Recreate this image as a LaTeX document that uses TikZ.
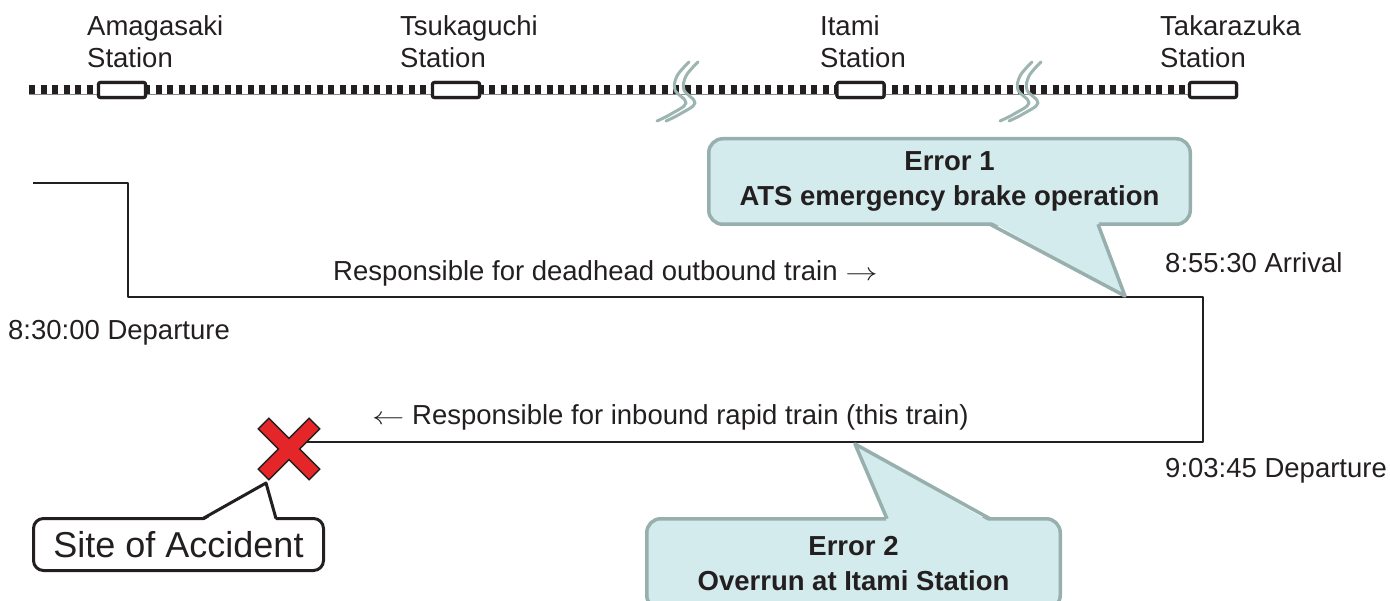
\documentclass[tikz,border=0pt]{standalone}
\usepackage{fontspec}
\setmainfont{Liberation Sans}
\definecolor{ink}{HTML}{231F20}
\definecolor{callfill}{HTML}{D3EBEC}
\definecolor{callline}{HTML}{97B0AD}
\definecolor{breakline}{HTML}{9DB5B0}
\definecolor{crossred}{HTML}{E52629}
\definecolor{railedge}{HTML}{8A8A8A}
\newcommand{\wideR}{\scalebox{1.3}[1]{$\rightarrow$}}
\newcommand{\wideL}{\scalebox{1.3}[1]{$\leftarrow$}}
\begin{document}
\begin{tikzpicture}[x=1pt,y=-1pt,line join=round,
  txt/.style={font=\fontsize{27.5}{32}\selectfont, text=ink, inner sep=0pt},
  boldtxt/.style={font=\fontsize{27.5}{35}\selectfont\bfseries, text=ink, inner sep=0pt, align=center},
  stn/.style={draw=ink, line width=3.2, fill=white, rounded corners=2,
    minimum width=47, minimum height=15, inner sep=0pt},
  brk/.style={draw=breakline, line width=3, line cap=round},
  run/.style={draw=ink, line width=1.6},
  errbox/.style={draw=callline, fill=callfill, line width=3.5, rounded corners=14},
  errtip/.style={draw=callline, line width=3.5},
]
\useasboundingbox (0,0) rectangle (1390,601);
\clip (0,0) rectangle (1390,601);

% ---- railway line with stations ----
\coordinate (trackW) at (29,90);
\node[stn] (stA) at (122,90) {};
\node[stn] (stB) at (456,90) {};
\node[stn] (stC) at (860.5,90) {};
\node[stn] (stD) at (1213,90) {};
\draw[railedge, line width=10.5] (trackW) -- (stD.center);
\draw[white, line width=9] (trackW) -- (stD.center);
\draw[ink, line width=9, dash pattern=on 6.2 off 5.3] (trackW) -- (stD.center);
\foreach \s in {stA,stB,stC,stD} \node[stn] at (\s) {};

\node[txt, align=left, anchor=north west] (lblA) at (87,15) {Amagasaki\\Station};
\node[txt, align=left, anchor=north west] (lblB) at (400,15) {Tsukaguchi\\Station};
\node[txt, align=left, anchor=north west] (lblC) at (820,15) {Itami\\Station};
\node[txt, align=left, anchor=north west] (lblD) at (1160,15) {Takarazuka\\Station};

% ---- breaks in the line ----
\foreach \dx in {0,343} {
  \foreach \s in {0,9} {
    \begin{scope}[shift={(\dx+\s,0)}]
      \draw[brk] plot[smooth, tension=0.6] coordinates
        {(689,62) (677,76) (675,90) (686,103) (671,114) (657,121)};
    \end{scope}
  }
}

% ---- run of the train ----
\coordinate (p0) at (33,183);
\coordinate (p1) at (128,183);
\coordinate (p2) at (128,297);
\coordinate (arr) at (1203,297);
\coordinate (dep) at (1203,442);
\coordinate (acc) at (289,442);
\coordinate (accX) at (289,449);
\draw[run] (p0) -- (p1) -- (p2) -- (arr) -- (dep) -- (acc);

\node[txt, anchor=base west] (tOut) at (333,281) {Responsible for deadhead outbound train \wideR};
\node[txt, anchor=base west] (tIn) at (372,425) {\wideL{} Responsible for inbound rapid train (this train)};
\node[txt, anchor=base west] (tArr) at (1165,273) {8:55:30 Arrival};
\node[txt, anchor=base west] (tDep0) at (8,340) {8:30:00 Departure};
\node[txt, anchor=base west] (tDep1) at (1165,477) {9:03:45 Departure};

% ---- accident mark ----
\filldraw[fill=crossred, draw=ink, line width=1.3, line join=miter, shift={(accX)}, rotate=45]
  (36,7.5) -- (7.5,7.5) -- (7.5,36) -- (-7.5,36) -- (-7.5,7.5) -- (-36,7.5) --
  (-36,-7.5) -- (-7.5,-7.5) -- (-7.5,-36) -- (7.5,-36) -- (7.5,-7.5) -- (36,-7.5) -- cycle;

% ---- site callout ----
\node[txt, font=\fontsize{36}{40}\selectfont, draw=ink, line width=3, rounded corners=10,
  fill=white, minimum width=290, minimum height=52] (site) at (178.5,544.5) {Site of Accident};
\coordinate (siteTip) at (266,483);
\fill[white] (203,521) -- (siteTip) -- (276,521) -- cycle;
\draw[ink, line width=3] (203,518.5) -- (siteTip) -- (276,518.5);

% ---- error callouts ----
\node[boldtxt, errbox, minimum width=481.5, minimum height=85.5] (err1) at (949.5,181.5)
  {Error 1\\ATS emergency brake operation};
\coordinate (err1Tip) at (1125,296);
\fill[callfill] (990,221) -- (err1Tip) -- (1098,221) -- cycle;
\draw[errtip] (990,224.25) -- (err1Tip) -- (1098,224.25);

\node[boldtxt, errbox, minimum width=413.5, minimum height=90.5] (err2) at (853.5,564)
  {Error 2\\Overrun at Itami Station};
\coordinate (err2Tip) at (855,444);
\fill[callfill] (887,522) -- (err2Tip) -- (990,522) -- cycle;
\draw[errtip] (887,518.75) -- (err2Tip) -- (990,518.75);
\end{tikzpicture}
\end{document}
